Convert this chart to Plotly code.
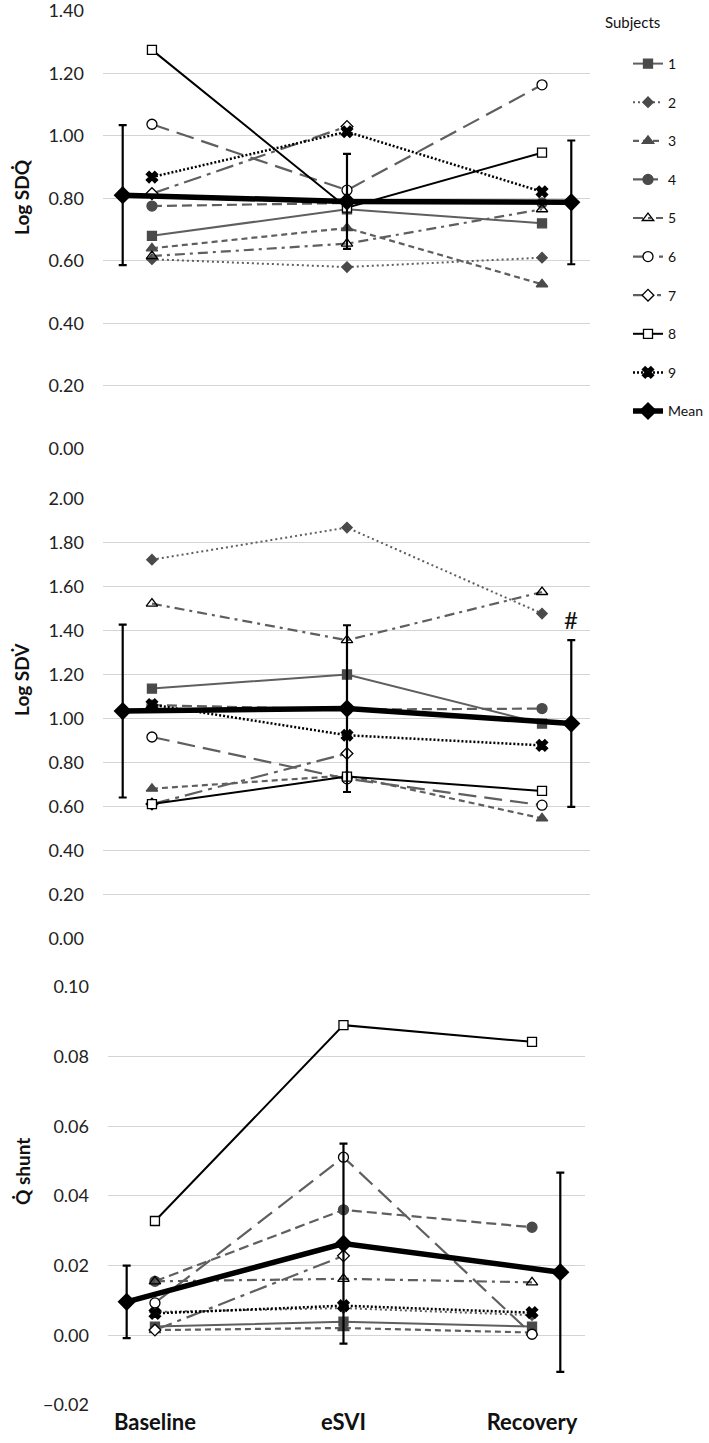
import plotly.graph_objects as go

# ---------------- data ----------------
categories = ["Baseline", "eSVI", "Recovery"]
subjects = ["1", "2", "3", "4", "5", "6", "7", "8", "9"]

# Log SDQ (per subject: Baseline, eSVI, Recovery)
sdq_values = [
    [0.680, 0.765, 0.720],
    [0.605, 0.580, 0.610],
    [0.640, 0.705, 0.525],
    [0.775, 0.785, 0.785],
    [0.615, 0.655, 0.765],
    [1.037, 0.826, 1.163],
    [0.815, 1.030, None],
    [1.275, 0.770, 0.946],
    [0.868, 1.013, 0.821],
]
sdq_mean = [0.810, 0.790, 0.787]
sdq_err = [0.224, 0.152, 0.198]
sdq_ticks = [0.0, 0.2, 0.4, 0.6, 0.8, 1.0, 1.2, 1.4]

# Log SDV
sdv_values = [
    [1.135, 1.199, 0.976],
    [1.721, 1.867, 1.476],
    [0.680, 0.740, 0.545],
    [1.060, 1.040, 1.044],
    [1.521, 1.355, 1.574],
    [0.915, 0.725, 0.605],
    [0.610, 0.840, None],
    [0.610, 0.735, 0.670],
    [1.062, 0.923, 0.877],
]
sdv_mean = [1.033, 1.044, 0.976]
sdv_err = [0.393, 0.379, 0.379]
sdv_ticks = [0.0, 0.2, 0.4, 0.6, 0.8, 1.0, 1.2, 1.4, 1.6, 1.8, 2.0]

# Q shunt
shunt_values = [
    [0.0025, 0.0039, 0.0025],
    [0.0067, 0.0078, 0.0058],
    [0.0015, 0.0021, 0.0008],
    [0.0155, 0.0360, 0.0310],
    [0.0155, 0.0162, 0.0152],
    [0.0093, 0.0511, 0.0003],
    [0.0015, 0.0228, None],
    [0.0328, 0.0890, 0.0842],
    [0.0063, 0.0085, 0.0065],
]
shunt_mean = [0.0096, 0.0263, 0.0181]
shunt_err = [0.0104, 0.0287, 0.0286]
shunt_ticks = [-0.02, 0.0, 0.02, 0.04, 0.06, 0.08, 0.10]

sig_marker = "#"

# ---------------- styles ----------------
FONT = "Lato"
GRAY = "#5f5f5f"
DARK = "#4a4a4a"
styles = [
    dict(sym="square", size=9, fill=DARK, mlc=DARK, lc=GRAY, dash="solid", lw=2),
    dict(sym="diamond", size=8, fill=DARK, mlc=DARK, lc=GRAY, dash="2px,3px", lw=2),
    dict(sym="triangle-up", size=10, fill=DARK, mlc=DARK, lc=GRAY, dash="6px,4px", lw=2.2),
    dict(sym="circle", size=10, fill=DARK, mlc=DARK, lc=GRAY, dash="10px,5px", lw=2.2),
    dict(sym="triangle-up", size=10, fill="rgba(0,0,0,0)", mlc="black", lc=GRAY, dash="10px,5px,3px,5px", lw=2.2),
    dict(sym="circle", size=10, fill="white", mlc="black", lc=GRAY, dash="18px,8px", lw=2.2),
    dict(sym="diamond", size=9, fill="white", mlc="black", lc=GRAY, dash="18px,6px,4px,6px", lw=2.2),
    dict(sym="square", size=9, fill="white", mlc="black", lc="black", dash="solid", lw=2),
    dict(sym="x", size=10, fill="black", mlc="black", lc="black", dash="2px,2px", lw=2.5),
]

MEAN_OFFSET = 0.15
cat_pos = list(range(len(categories)))
mean_pos = [i - MEAN_OFFSET if i == 0 else (i + MEAN_OFFSET if i == len(categories) - 1 else i)
            for i in cat_pos]

fig = go.Figure()

panels = [
    (sdq_values, sdq_mean, sdq_err, "x", "y"),
    (sdv_values, sdv_mean, sdv_err, "x2", "y2"),
    (shunt_values, shunt_mean, shunt_err, "x3", "y3"),
]

for p_i, (vals, mean, err, xa, ya) in enumerate(panels):
    for s_i, name in enumerate(subjects):
        st = styles[s_i]
        fig.add_trace(go.Scatter(
            x=cat_pos, y=vals[s_i], mode="lines+markers", name=name,
            legendgroup=name, showlegend=(p_i == 0),
            line=dict(color=st["lc"], width=st["lw"], dash=st["dash"]),
            marker=dict(symbol=st["sym"], size=st["size"], color=st["fill"],
                        line=dict(color=st["mlc"], width=1.3)),
            xaxis=xa, yaxis=ya, connectgaps=False, cliponaxis=False,
        ))
    fig.add_trace(go.Scatter(
        x=mean_pos, y=mean, mode="lines+markers", name="Mean",
        legendgroup="Mean", showlegend=(p_i == 0),
        line=dict(color="black", width=5.5),
        marker=dict(symbol="diamond", size=14, color="black"),
        error_y=dict(type="data", array=err, color="black", thickness=2.2, width=4),
        xaxis=xa, yaxis=ya, cliponaxis=False,
    ))

# layout in window pixels (the page margin is removed below)
FW, FH = 709, 1443

def px_x(x):
    return x / FW

def px_y(y):
    return 1 - y / FH

def ydom(top_px, bottom_px):
    return [px_y(bottom_px), px_y(top_px)]

grid = "#d4d4d4"
tickfont = dict(family=FONT, size=18, color="#222")

common_y = dict(showgrid=True, gridcolor=grid, gridwidth=1, zeroline=False,
                tickformat=".2f", tickfont=tickfont, ticks="", ticklabelstandoff=18,
                ticklabeloverflow="allow", showline=False, automargin=False)
common_x = dict(showgrid=False, zeroline=False, showline=False, ticks="", automargin=False)

fig.update_layout(
    width=FW, height=FH,
    margin=dict(l=0, r=0, t=0, b=0, pad=0, autoexpand=False),
    paper_bgcolor="white", plot_bgcolor="white",
    font=dict(family=FONT, color="#222"),
    xaxis=dict(domain=[px_x(103), px_x(590)], range=[-0.251, 2.246], anchor="y",
               showticklabels=False, **common_x),
    yaxis=dict(domain=ydom(10.8, 448.3), range=[0, 1.4], tickvals=sdq_ticks,
               anchor="x", **common_y),
    xaxis2=dict(domain=[px_x(103), px_x(590)], range=[-0.251, 2.246], anchor="y2",
                showticklabels=False, **common_x),
    yaxis2=dict(domain=ydom(498.3, 938.3), range=[0, 2.0], tickvals=sdv_ticks,
                anchor="x2", **common_y),
    xaxis3=dict(domain=[px_x(108), px_x(585)], range=[-0.249, 2.281], anchor="y3",
                tickvals=cat_pos, ticktext=categories,
                tickfont=dict(family=FONT, size=22, color="#111", weight=700),
                showticklabels=True, ticklabelstandoff=2, **common_x),
    yaxis3=dict(domain=ydom(986.8, 1405.0), range=[-0.02, 0.10], tickvals=shunt_ticks,
                anchor="x3", **common_y),
    legend=dict(x=px_x(628), y=px_y(48), xanchor="left", yanchor="top",
                font=dict(family=FONT, size=14, color="#111"),
                tracegroupgap=17.4, bgcolor="rgba(0,0,0,0)", itemwidth=30),
    showlegend=True,
)

annotations = [
    dict(text="Subjects", xref="paper", yref="paper", x=px_x(603), y=px_y(22),
         xanchor="left", yanchor="middle", showarrow=False,
         font=dict(family=FONT, size=15, color="#111")),
    dict(text="<b>Log SDQ̇</b>", xref="paper", yref="paper", x=px_x(22), y=px_y(197),
         xanchor="center", yanchor="middle",
         textangle=-90, showarrow=False, font=dict(family=FONT, size=19, color="#111")),
    dict(text="<b>Log SDV̇</b>", xref="paper", yref="paper", x=px_x(22), y=px_y(680),
         xanchor="center", yanchor="middle",
         textangle=-90, showarrow=False, font=dict(family=FONT, size=19, color="#111")),
    dict(text="<b>Q̇ shunt</b>", xref="paper", yref="paper", x=px_x(22), y=px_y(1172),
         xanchor="center", yanchor="middle",
         textangle=-90, showarrow=False, font=dict(family=FONT, size=19, color="#111")),
    dict(text=sig_marker, xref="x2", yref="y2", x=mean_pos[2], y=sdv_mean[2] + sdv_err[2],
         yanchor="bottom", yshift=4, showarrow=False,
         font=dict(family=FONT, size=24, color="#111")),
]
fig.update_layout(annotations=annotations)

fig.write_html("out.html",
               config={"displayModeBar": False},
               post_script="document.body.style.margin='0';document.body.style.overflow='hidden';")
